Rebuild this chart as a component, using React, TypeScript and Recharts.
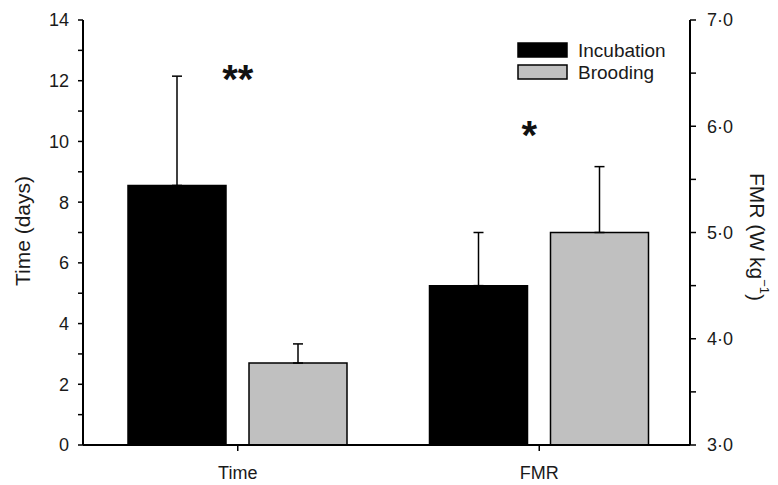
import React from 'react';
import { BarChart, Bar, XAxis, YAxis, ErrorBar, ReferenceDot } from 'recharts';

// ---- data ----
const categories = ['Time', 'FMR'];
const seriesNames = ['Incubation', 'Brooding'];
const seriesFills = ['#000000', '#c0c0c0'];

// Time (days) -> left axis  [incubation, brooding]
const timeMeans = [8.55, 2.7];
const timeErrors = [3.6, 0.63];

// FMR (W kg-1) -> right axis  [incubation, brooding]
const fmrMeans = [4.5, 5.0];
const fmrErrors = [0.5, 0.62];

const leftTicks = [0, 1, 2, 3, 4, 5, 6, 7, 8, 9, 10, 11, 12, 13, 14];
const rightTicks = [3, 3.5, 4, 4.5, 5, 5.5, 6, 6.5, 7];

const annotations = [
  { cat: 'Time', axis: 'left', value: 12.35, text: '**' },
  { cat: 'FMR', axis: 'right', value: 6.0, text: '*' },
];

// ---- table for the library ----
const data = categories.map((cat) => ({
  cat,
  timeInc: cat === 'Time' ? timeMeans[0] : null,
  timeBrood: cat === 'Time' ? timeMeans[1] : null,
  timeIncErr: cat === 'Time' ? [0, timeErrors[0]] : null,
  timeBroodErr: cat === 'Time' ? [0, timeErrors[1]] : null,
  fmrInc: cat === 'FMR' ? fmrMeans[0] : null,
  fmrBrood: cat === 'FMR' ? fmrMeans[1] : null,
  fmrIncErr: cat === 'FMR' ? [0, fmrErrors[0]] : null,
  fmrBroodErr: cat === 'FMR' ? [0, fmrErrors[1]] : null,
}));

const FONT = '"Liberation Sans", Arial, Helvetica, sans-serif';
const TEXT = '#1a1a1a';
const axisLine = { stroke: '#000', strokeWidth: 2 };
const tickLine = { stroke: '#000', strokeWidth: 1.5 };
const tickStyle = { fill: TEXT, fontSize: 18, fontFamily: FONT };
const PAD = { left: 4, right: 0 };

const fmtRight = (v: number) => (Number.isInteger(v) ? v.toFixed(1).replace('.', '\u00B7') : '');
const fmtLeft = (v: number) => (v % 2 === 0 ? String(v) : '');

const Star = (props: any) => {
  const { cx, cy, text, dx } = props;
  const fs = 40;
  return (
    <text
      x={cx + (dx || 0)}
      y={cy + fs * 0.575}
      textAnchor="middle"
      fontSize={fs}
      fontWeight="bold"
      fontFamily={FONT}
      fill="#111"
    >
      {text}
    </text>
  );
};

export default function App() {
  return (
    <div style={{ position: 'absolute', left: 0, top: 0, width: 778, height: 485, background: '#fff' }}>
      <BarChart
        width={778}
        height={485}
        data={data}
        margin={{ top: 20, right: 0, bottom: 0, left: 0 }}
        barSize={98}
        barGap={23}
      >
        <XAxis
          xAxisId="a"
          dataKey="cat"
          height={40}
          padding={PAD}
          axisLine={axisLine}
          tickLine={tickLine}
          tickSize={6}
          tickMargin={15}
          tick={tickStyle}
        />
        <XAxis xAxisId="b" dataKey="cat" hide padding={PAD} />
        <XAxis
          xAxisId="top"
          dataKey="cat"
          orientation="top"
          height={0}
          padding={PAD}
          tick={false}
          tickLine={false}
          axisLine={axisLine}
        />
        <YAxis
          yAxisId="left"
          domain={[0, 14]}
          ticks={leftTicks}
          interval={0}
          width={83}
          tickSize={5}
          tickMargin={9}
          axisLine={axisLine}
          tickLine={tickLine}
          tick={tickStyle}
          tickFormatter={fmtLeft}
        />
        <YAxis
          yAxisId="right"
          orientation="right"
          domain={[3, 7]}
          ticks={rightTicks}
          interval={0}
          width={88}
          tickSize={6}
          tickMargin={11}
          axisLine={axisLine}
          tickLine={tickLine}
          tick={tickStyle}
          tickFormatter={fmtRight}
        />

        <Bar xAxisId="a" yAxisId="left" dataKey="timeInc" name={seriesNames[0]} fill={seriesFills[0]} stroke="#000" strokeWidth={1.5} isAnimationActive={false}>
          <ErrorBar dataKey="timeIncErr" width={5} stroke="#000" strokeWidth={1.5} direction="y" isAnimationActive={false} />
        </Bar>
        <Bar xAxisId="a" yAxisId="left" dataKey="timeBrood" name={seriesNames[1]} fill={seriesFills[1]} stroke="#000" strokeWidth={1.5} isAnimationActive={false}>
          <ErrorBar dataKey="timeBroodErr" width={5} stroke="#000" strokeWidth={1.5} direction="y" isAnimationActive={false} />
        </Bar>
        <Bar xAxisId="b" yAxisId="right" dataKey="fmrInc" name={seriesNames[0]} fill={seriesFills[0]} stroke="#000" strokeWidth={1.5} isAnimationActive={false}>
          <ErrorBar dataKey="fmrIncErr" width={5} stroke="#000" strokeWidth={1.5} direction="y" isAnimationActive={false} />
        </Bar>
        <Bar xAxisId="b" yAxisId="right" dataKey="fmrBrood" name={seriesNames[1]} fill={seriesFills[1]} stroke="#000" strokeWidth={1.5} isAnimationActive={false}>
          <ErrorBar dataKey="fmrBroodErr" width={5} stroke="#000" strokeWidth={1.5} direction="y" isAnimationActive={false} />
        </Bar>

        {annotations.map((a) => (
          <ReferenceDot
            key={a.cat}
            xAxisId={a.axis === 'left' ? 'a' : 'b'}
            yAxisId={a.axis}
            x={a.cat}
            y={a.value}
            r={0}
            shape={(p: any) => <Star {...p} text={a.text} dx={a.axis === 'left' ? 0 : -10} />}
          />
        ))}

        {/* axis titles */}
        <g fontFamily={FONT} fill={TEXT}>
          <text
            transform="translate(22, 231) rotate(-90)"
            textAnchor="middle"
            dominantBaseline="central"
            fontSize={21}
          >
            Time (days)
          </text>
          <text
            transform="translate(757, 237) rotate(90)"
            textAnchor="middle"
            dominantBaseline="central"
            fontSize={21}
          >
            FMR (W kg<tspan fontSize={13} dy={-8}>−1</tspan>
            <tspan dy={8}>)</tspan>
          </text>
        </g>

        {/* legend */}
        <g fontFamily={FONT} fill={TEXT}>
          {seriesNames.map((name, i) => (
            <g key={name} transform={`translate(518, ${43 + i * 22})`}>
              <rect x={0} y={0} width={49} height={14} fill={seriesFills[i]} stroke="#000" strokeWidth={1.5} />
              <text x={60} y={7} dominantBaseline="central" fontSize={19}>
                {name}
              </text>
            </g>
          ))}
        </g>
      </BarChart>
    </div>
  );
}
